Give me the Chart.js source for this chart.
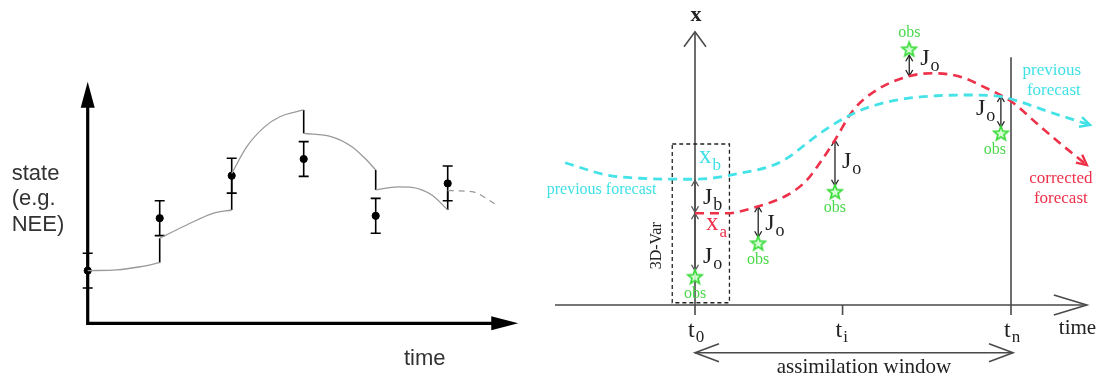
<!DOCTYPE html>
<html>
<head>
<meta charset="utf-8">
<script src="https://cdn.jsdelivr.net/npm/chart.js@4.4.1/dist/chart.umd.min.js"></script>
<style>
  html, body { margin: 0; padding: 0; background: #fff; }
  #wrap { position: relative; width: 1105px; height: 381px; overflow: hidden; }
  canvas { position: absolute; top: 0; }
  #seq { left: 0; }
  #var4d { left: 530px; }
</style>
</head>
<body>
<div id="wrap">
  <canvas id="seq" width="530" height="381"></canvas>
  <canvas id="var4d" width="575" height="381"></canvas>
</div>
<script>
// ---- sequential assimilation: observations with error bars ----
const obsTimes = [0, 1, 2, 3, 4, 5];
const obsValues = [2.18, 4.35, 6.11, 6.80, 4.45, 5.79];
const obsErrors = [0.72, 0.72, 0.72, 0.72, 0.72, 0.72];

// model runs between observation times, each restarted from the updated state
const run1 = [[0, 2.18], [0.40, 2.21], [0.73, 2.34], [1, 2.51]];
const run2 = [[1, 3.52], [1.375, 4.07], [1.74, 4.55], [2, 4.69]];
const run3 = [[2, 6.2], [2.21, 7.31], [2.46, 8.14], [2.67, 8.55], [3, 8.83]];
const run4 = [[3, 7.86], [3.39, 7.72], [3.67, 7.31], [3.85, 6.83], [4, 6.35]];
const run5 = [[4, 5.52], [4.31, 5.65], [4.5, 5.63], [4.78, 5.31], [5, 4.69]];
const run6 = [[5, 5.49], [5.33, 5.45], [5.68, 4.9]];
const runs = [run1, run2, run3, run4, run5];

// ---- 4D-Var window ----
const tickNames = ['0', 'i', 'n'];
const tickTimes = [0, 4.67, 10];
const priorRun = [[-4.11, 5.69], [-2.79, 5.2], [-1.74, 5.07], [0, 5.03], [1.42, 5.27], [2.69, 5.71],
  [3.96, 6.87], [4.8, 7.53], [5.54, 7.93], [6.59, 8.24], [7.65, 8.37], [8.7, 8.4], [9.71, 8.33],
  [10.28, 8.13], [11.34, 7.67], [12.5, 7.2]];
const correctedRun = [[0, 3.67], [1.0, 3.67], [1.95, 3.93], [2.9, 4.38], [3.53, 4.98], [3.96, 5.7],
  [4.43, 6.6], [5.01, 7.8], [5.75, 8.6], [6.8, 9.16], [7.54, 9.27], [8.39, 9.13], [9.23, 8.67],
  [10.02, 8.13], [10.81, 7.27], [11.55, 6.47], [12.4, 5.6]];
const obs4dTimes = [0, 2.0, 4.43, 6.78, 9.68];
const obs4dValues = [1.13, 2.47, 4.53, 10.23, 6.87];
const modelAtObs = [3.67, 3.95, 6.6, 9.16, 8.36];
const xb = 5.03, xa = 3.67;
const box3dvar = { t0: -0.72, t1: 1.09, v0: 0.09, v1: 6.44 };

const pts = arr => arr.map(p => ({ x: p[0], y: p[1] }));

function chevron(ctx, x, y, ang, len, half, fill) {
  const ux = Math.cos(ang), uy = Math.sin(ang);
  const bx = x - ux * len, by = y - uy * len;
  ctx.beginPath();
  ctx.moveTo(bx - uy * half, by + ux * half);
  ctx.lineTo(x, y);
  ctx.lineTo(bx + uy * half, by - ux * half);
  if (fill) { ctx.closePath(); ctx.fill(); } else ctx.stroke();
}

function subText(ctx, main, sub, x, y, color, size, subSize, subDy) {
  ctx.fillStyle = color;
  ctx.font = size + 'px "Liberation Serif"';
  ctx.textAlign = 'left';
  ctx.fillText(main, x, y);
  const w = ctx.measureText(main).width;
  ctx.font = subSize + 'px "Liberation Serif"';
  ctx.fillText(sub, x + w + 1, y + subDy);
}

function vArrow(ctx, x, y1, y2, color, width) {
  ctx.strokeStyle = color;
  ctx.lineWidth = width;
  ctx.beginPath(); ctx.moveTo(x, y1); ctx.lineTo(x, y2); ctx.stroke();
  const d = y2 > y1 ? 1 : -1;
  ctx.lineWidth = 1.3;
  chevron(ctx, x, y1, d > 0 ? -Math.PI / 2 : Math.PI / 2, 6, 3.5);
  chevron(ctx, x, y2, d > 0 ? Math.PI / 2 : -Math.PI / 2, 6, 3.5);
}

const seqDecor = {
  id: 'seqDecor',
  beforeDatasetsDraw(chart) {
    const { ctx, scales: { x, y } } = chart;
    const x0 = x.getPixelForValue(0), y0 = y.getPixelForValue(0);
    const xEnd = x.getPixelForValue(5.98), yTop = y.getPixelForValue(10);
    ctx.save();
    ctx.strokeStyle = '#000'; ctx.fillStyle = '#000';
    ctx.lineWidth = 3.2;
    ctx.beginPath();
    ctx.moveTo(x0, yTop + 20); ctx.lineTo(x0, y0); ctx.lineTo(xEnd - 20, y0);
    ctx.stroke();
    chevron(ctx, x0, yTop, -Math.PI / 2, 26, 7, true);
    chevron(ctx, xEnd, y0, 0, 27, 7, true);

    // jumps from each forecast to the updated state
    ctx.lineWidth = 1.6;
    for (let i = 1; i < runs.length + 1; i++) {
      const prev = runs[i - 1][runs[i - 1].length - 1];
      const next = i < runs.length ? runs[i][0] : run6[0];
      const px = x.getPixelForValue(prev[0]);
      ctx.beginPath();
      ctx.moveTo(px, y.getPixelForValue(prev[1]));
      ctx.lineTo(px, y.getPixelForValue(next[1]));
      ctx.stroke();
    }
    // error bars
    obsTimes.forEach((t, i) => {
      const px = x.getPixelForValue(t);
      const lo = y.getPixelForValue(obsValues[i] - obsErrors[i]);
      const hi = y.getPixelForValue(obsValues[i] + obsErrors[i]);
      ctx.beginPath();
      ctx.moveTo(px, lo); ctx.lineTo(px, hi);
      ctx.moveTo(px - 5, lo); ctx.lineTo(px + 5, lo);
      ctx.moveTo(px - 5, hi); ctx.lineTo(px + 5, hi);
      ctx.stroke();
    });
    ctx.restore();
  },
  afterDatasetsDraw(chart) {
    const { ctx, scales: { x, y } } = chart;
    const x0 = x.getPixelForValue(0), y0 = y.getPixelForValue(0);
    ctx.save();
    ctx.fillStyle = '#333';
    ctx.font = '22px "Liberation Sans"';
    ctx.textAlign = 'left';
    ctx.fillText('state', x0 - 76, 179.5);
    ctx.fillText('(e.g.', x0 - 76, 205);
    ctx.fillText('NEE)', x0 - 76, 230.7);
    ctx.fillText('time', 404, y0 + 42);
    ctx.restore();
  }
};

const var4dDecor = {
  id: 'var4dDecor',
  beforeDatasetsDraw(chart) {
    const { ctx, scales: { x, y } } = chart;
    const X = t => x.getPixelForValue(t), Y = v => y.getPixelForValue(v);
    const x0 = X(0), y0 = Y(0);
    ctx.save();
    ctx.strokeStyle = '#4a4a4a';
    ctx.lineWidth = 1.6;
    ctx.beginPath();
    ctx.moveTo(x0, Y(-0.4)); ctx.lineTo(x0, Y(10.93));
    ctx.moveTo(X(-4.43), y0); ctx.lineTo(X(12.4), y0);
    ctx.moveTo(X(tickTimes[1]), y0); ctx.lineTo(X(tickTimes[1]), Y(-0.4));
    ctx.moveTo(X(tickTimes[2]), Y(-0.4)); ctx.lineTo(X(tickTimes[2]), Y(9.91));
    ctx.stroke();
    chevron(ctx, x0, Y(10.93), -Math.PI / 2, 15, 11);
    chevron(ctx, X(12.4), y0, 0, 33, 10);

    // assimilation window
    const wy = y0 + 47.7;
    ctx.beginPath(); ctx.moveTo(X(0), wy); ctx.lineTo(X(10) + 2, wy); ctx.stroke();
    chevron(ctx, X(0), wy, Math.PI, 24, 9);
    chevron(ctx, X(10) + 2, wy, 0, 24, 9);

    // 3D-Var box
    ctx.strokeStyle = '#222';
    ctx.lineWidth = 1.3;
    ctx.setLineDash([4, 3]);
    ctx.strokeRect(X(box3dvar.t0), Y(box3dvar.v1), X(box3dvar.t1) - X(box3dvar.t0), Y(box3dvar.v0) - Y(box3dvar.v1));
    ctx.setLineDash([]);

    // background and observation misfits
    vArrow(ctx, x0, Y(xb) + 1, Y(xa) - 1, '#555', 2);
    obs4dTimes.forEach((t, i) => {
      const top = Y(modelAtObs[i]);
      const ob = Y(obs4dValues[i]);
      const d = ob > top ? -6 : 6;
      vArrow(ctx, X(t), top, ob + d, i === 0 ? '#555' : '#222', i === 0 ? 2 : 1.3);
    });
    ctx.restore();
  },
  afterDatasetsDraw(chart) {
    const { ctx, scales: { x, y } } = chart;
    const X = t => x.getPixelForValue(t), Y = v => y.getPixelForValue(v);
    const x0 = X(0), y0 = Y(0);
    const cyan = '#3fe0e6', red = '#ee3049', green = '#49d949', ink = '#222';
    ctx.save();

    // arrow tips of the two trajectories
    ctx.lineWidth = 2.4;
    [[priorRun, cyan], [correctedRun, red]].forEach(([run, col]) => {
      const a = run[run.length - 2], b = run[run.length - 1];
      const ang = Math.atan2(Y(b[1]) - Y(a[1]), X(b[0]) - X(a[0]));
      ctx.strokeStyle = col;
      chevron(ctx, X(b[0]), Y(b[1]), ang, 10, 5);
    });

    ctx.textAlign = 'center';
    ctx.fillStyle = ink;
    ctx.font = 'bold 22px "Liberation Serif"';
    ctx.fillText('x', x0 + 1, 21);

    tickTimes.forEach((t, i) => {
      subText(ctx, 't', tickNames[i], X(t) - 7, y0 + 32, ink, 24, 17, 5);
    });
    ctx.font = '21px "Liberation Serif"';
    ctx.textAlign = 'left';
    ctx.fillText('time', X(12.4) - 28, y0 + 28.5);
    ctx.textAlign = 'center';
    ctx.fillText('assimilation window', (X(0) + X(10)) / 2 + 11, y0 + 68.3);

    ctx.save();
    ctx.translate(x0 - 34, Y(2.37));
    ctx.rotate(-Math.PI / 2);
    ctx.font = '16px "Liberation Serif"';
    ctx.fillStyle = ink;
    ctx.textAlign = 'center';
    ctx.fillText('3D-Var', 0, 0);
    ctx.restore();

    // trajectory labels
    ctx.font = '16px "Liberation Serif"';
    ctx.textAlign = 'left';
    ctx.fillStyle = cyan;
    ctx.fillText('previous forecast', x0 - 148.3, Y(xb) + 15);
    ctx.font = '17px "Liberation Serif"';
    ctx.textAlign = 'center';
    ctx.fillText('previous', X(12.4) - 35, 75);
    ctx.fillText('forecast', X(12.4) - 33, 95);
    ctx.fillStyle = red;
    ctx.fillText('corrected', X(12.4) - 26, 182.7);
    ctx.fillText('forecast', X(12.4) - 26, 202.7);

    subText(ctx, 'x', 'b', x0 + 4, Y(xb) - 16, cyan, 25, 17, 7);
    subText(ctx, 'x', 'a', x0 + 11, Y(xa) + 17, red, 25, 17, 7);
    subText(ctx, 'J', 'b', x0 + 8, Y(xa) - 9, ink, 24, 18, 6);

    // observation labels
    const joOffsets = [[8, 18], [7, 5], [7, 2], [11, 2], [-25, 0]];
    const obsOffsets = [[0, 21], [0, 21], [0, 20], [0, -12], [-6, 21]];
    obs4dTimes.forEach((t, i) => {
      const px = X(t);
      const mid = (Y(modelAtObs[i]) + Y(obs4dValues[i])) / 2;
      subText(ctx, 'J', 'o', px + joOffsets[i][0], mid + joOffsets[i][1], ink, 24, 18, 6);
      ctx.font = '16px "Liberation Serif"';
      ctx.fillStyle = green;
      ctx.textAlign = 'center';
      ctx.fillText('obs', px + obsOffsets[i][0], Y(obs4dValues[i]) + obsOffsets[i][1]);
    });
    ctx.restore();
  }
};

function starImage() {
  const c = document.createElement('canvas');
  c.width = 18; c.height = 18;
  const g = c.getContext('2d');
  g.beginPath();
  for (let i = 0; i < 10; i++) {
    const r = i % 2 ? 3.2 : 7.5;
    const a = -Math.PI / 2 + i * Math.PI / 5;
    g.lineTo(9 + r * Math.cos(a), 9.5 + r * Math.sin(a));
  }
  g.closePath();
  g.fillStyle = 'rgba(210,255,210,0.9)';
  g.fill();
  g.strokeStyle = '#3ddc3d';
  g.lineWidth = 1.7;
  g.stroke();
  return c;
}

const hidden = { display: false };
const baseOpts = {
  responsive: false,
  animation: false,
  events: [],
  plugins: { legend: { display: false }, tooltip: { enabled: false } }
};

const runDataset = (run, dashed) => ({
  data: pts(run), showLine: true, borderColor: '#999', borderWidth: 1.3,
  borderDash: dashed ? [6, 5] : [], pointRadius: 0, cubicInterpolationMode: 'monotone', clip: false
});

new Chart(document.getElementById('seq'), {
  type: 'scatter',
  data: {
    datasets: [
      ...runs.map(r => runDataset(r, false)),
      runDataset(run6, true),
      {
        data: obsTimes.map((t, i) => ({ x: t, y: obsValues[i] })),
        pointRadius: 3.6, pointBackgroundColor: '#000', pointBorderColor: '#000', clip: false
      }
    ]
  },
  options: {
    ...baseOpts,
    layout: { padding: { left: 87.7, right: 10.3, top: 81.7, bottom: 57.7 } },
    scales: {
      x: { type: 'linear', min: 0, max: 6, ...hidden },
      y: { type: 'linear', min: 0, max: 10, ...hidden }
    }
  },
  plugins: [seqDecor]
});

new Chart(document.getElementById('var4d'), {
  type: 'scatter',
  data: {
    datasets: [
      {
        data: pts(priorRun), showLine: true, borderColor: '#45e2e8', borderWidth: 2.8,
        borderDash: [9, 6], pointRadius: 0, cubicInterpolationMode: 'monotone', clip: false
      },
      {
        data: pts(correctedRun), showLine: true, borderColor: '#ee3049', borderWidth: 2.6,
        borderDash: [9, 6], pointRadius: 0, cubicInterpolationMode: 'monotone', clip: false
      },
      {
        data: obs4dTimes.map((t, i) => ({ x: t, y: obs4dValues[i] })),
        pointStyle: starImage(), pointRadius: 9, clip: false
      }
    ]
  },
  options: {
    ...baseOpts,
    layout: { padding: { left: 22.8, right: 15, top: 30, bottom: 76 } },
    scales: {
      x: { type: 'linear', min: -4.5, max: 12.5, ...hidden },
      y: { type: 'linear', min: 0, max: 11, ...hidden }
    }
  },
  plugins: [var4dDecor]
});
</script>
</body>
</html>
